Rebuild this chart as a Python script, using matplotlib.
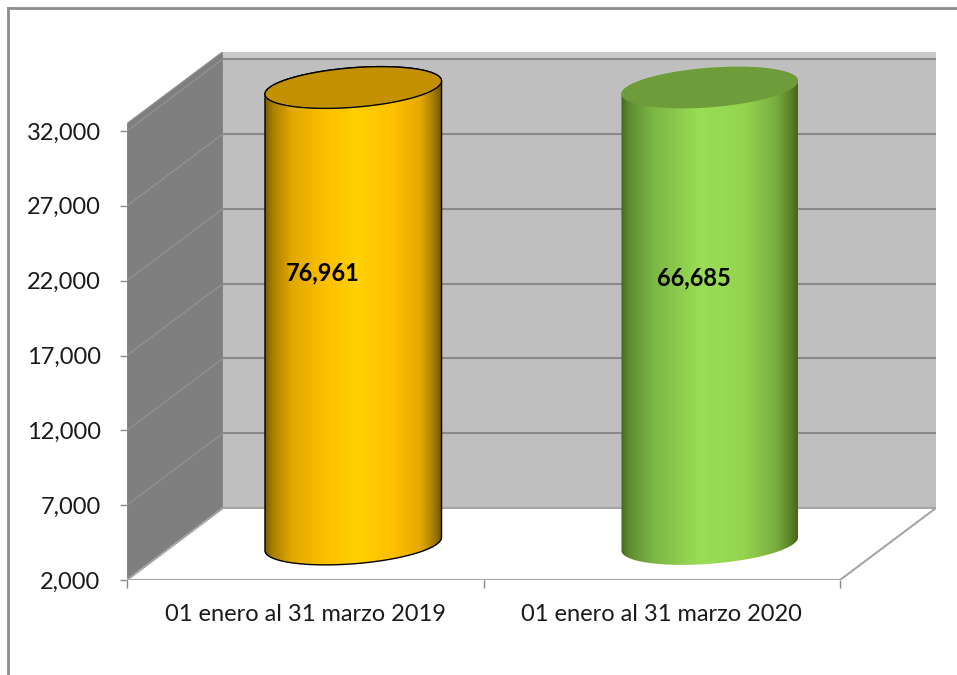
import numpy as np
import matplotlib.pyplot as plt
from matplotlib.patches import Polygon
from matplotlib.colors import LinearSegmentedColormap
from matplotlib.lines import Line2D

# datos
periodos = ['01 enero al 31 marzo 2019', '01 enero al 31 marzo 2020']
totales = [76961, 66685]
etiquetas = ['76,961', '66,685']
yticks = [2000, 7000, 12000, 17000, 22000, 27000, 32000]

plt.rcParams['font.family'] = ['Lato', 'DejaVu Sans']

W, H = 957, 675
fig = plt.figure(figsize=(W / 100, H / 100), dpi=100)

# escala del plano frontal (pixeles por unidad)
ppx = (840 - 127) / 2.0
ppy = (580 - 131) / 30000.0
DX = 96 / ppx          # desplazamiento de profundidad en x
DV = 72 / ppy          # desplazamiento de profundidad en valor
techo = 32500          # tope del area de trazado

xmin, xmax = -0.5, 1.5 + DX
ymin, ymax = 2000, techo + DV
ax = fig.add_axes([127 / W, (H - 580) / H,
                   (xmax - xmin) * ppx / W, (ymax - ymin) * ppy / H])


def proy(x, v, d):
    return x + d * DX, v + d * DV


# pared lateral
ax.add_patch(Polygon([(-0.5, 2000), (-0.5, techo), proy(-0.5, techo, 1), proy(-0.5, 2000, 1)],
                     closed=True, facecolor='#7f7f7f', edgecolor='#8f8f8f', lw=0.8, zorder=1))
for v in yticks[1:]:
    x0, y0 = proy(-0.5, v, 0)
    x1, y1 = proy(-0.5, v, 1)
    ax.plot([x0, x1], [y0, y1], color='#959595', lw=0.8, zorder=2)

# pared del fondo
ax.add_patch(Polygon([proy(-0.5, 2000, 1), proy(1.5, 2000, 1), proy(1.5, techo, 1), proy(-0.5, techo, 1)],
                     closed=True, facecolor='#bfbfbf', edgecolor='none', zorder=1))
ax.add_patch(Polygon([proy(-0.5, 32000, 1), proy(1.5, 32000, 1), proy(1.5, techo, 1), proy(-0.5, techo, 1)],
                     closed=True, facecolor='#cbcbcb', edgecolor='none', zorder=1))
for v in yticks:
    x0, y0 = proy(-0.5, v, 1)
    x1, y1 = proy(1.5, v, 1)
    ax.plot([x0, x1], [y0, y1], color='#8a8a8a', lw=1.5, zorder=2)

# piso
ax.add_patch(Polygon([(-0.5, 2000), (1.5, 2000), proy(1.5, 2000, 1), proy(-0.5, 2000, 1)],
                     closed=True, facecolor='white', edgecolor='#a6a6a6', lw=1.5, zorder=2))

# cilindros
colores = [
    [(0.0, '#7a5c00'), (0.04, '#a67e00'), (0.15, '#e0a800'), (0.35, '#ffc000'),
     (0.52, '#ffd000'), (0.72, '#ffc000'), (0.88, '#e4aa00'), (0.96, '#a07800'), (1.0, '#6e5200')],
    [(0.0, '#46681f'), (0.04, '#5e8a30'), (0.18, '#7cb545'), (0.45, '#9ade55'),
     (0.7, '#94d44f'), (0.88, '#78ad3e'), (0.96, '#5a8229'), (1.0, '#46661c')],
]
tapas = ['#c29000', '#6f9c3b']
bordes = ['black', 'none']
r = 0.235
rd = 0.29
d0 = 0.5
tr = np.arctan2(rd * DX, r)
tl = tr + np.pi

for i, val in enumerate(totales):
    top = min(val, techo)

    def elipse(v, tt):
        d = d0 + rd * np.sin(tt)
        return i + r * np.cos(tt) + d * DX, v + d * DV

    t_frente = np.linspace(tl, tr + 2 * np.pi, 120)
    t_fondo = np.linspace(tr, tl, 120)
    xb, yb = elipse(2000, t_frente)
    xt, yt = elipse(top, t_fondo)
    cuerpo = Polygon(np.column_stack([np.r_[xb, xt], np.r_[yb, yt]]), closed=True,
                     facecolor='none', edgecolor=bordes[i], lw=1.0, zorder=5)
    ax.add_patch(cuerpo)
    cmap = LinearSegmentedColormap.from_list('c%d' % i, colores[i])
    grad = np.linspace(0, 1, 256).reshape(1, -1)
    im = ax.imshow(grad, cmap=cmap, aspect='auto', interpolation='bicubic',
                   extent=[xb.min(), xb.max(), 2000 + d0 * DV - rd * DV, top + d0 * DV + rd * DV],
                   zorder=4)
    im.set_clip_path(cuerpo)

    tt = np.linspace(0, 2 * np.pi, 200)
    xc, yc = elipse(top, tt)
    ax.add_patch(Polygon(np.column_stack([xc, yc]), closed=True, facecolor=tapas[i],
                         edgecolor=bordes[i], lw=1.0, zorder=6))

    ax.text(i + 0.05 + 0.04 * i, 22500 - 300 * i, etiquetas[i], ha='center', va='center',
            fontsize=17, fontweight='bold', color='black', zorder=7)

# ejes
ax.set_xlim(xmin, xmax)
ax.set_ylim(ymin, ymax)
ax.set_yticks(yticks)
ax.set_yticklabels(['{:,}'.format(v) for v in yticks])
ax.set_xticks([0, 1])
ax.set_xticklabels(periodos)
ax.set_xticks([-0.5, 0.5, 1.5], minor=True)
ax.tick_params(axis='x', which='major', length=0, pad=17, labelsize=17, labelcolor='#1a1a1a')
ax.tick_params(axis='x', which='minor', length=6, width=1, color='#8a8a8a')
ax.tick_params(axis='y', length=5, width=1, color='#8a8a8a', pad=14, labelsize=17, labelcolor='#1a1a1a')
for s in ax.spines.values():
    s.set_visible(False)
ax.patch.set_visible(False)

# marco
fig.add_artist(Line2D([8 / W, 8 / W], [0, 1 - 8 / H], color='#8c8c8c', lw=2))
fig.add_artist(Line2D([8 / W, 1], [1 - 8 / H, 1 - 8 / H], color='#8c8c8c', lw=2))

fig.savefig('out.png', dpi=100)
